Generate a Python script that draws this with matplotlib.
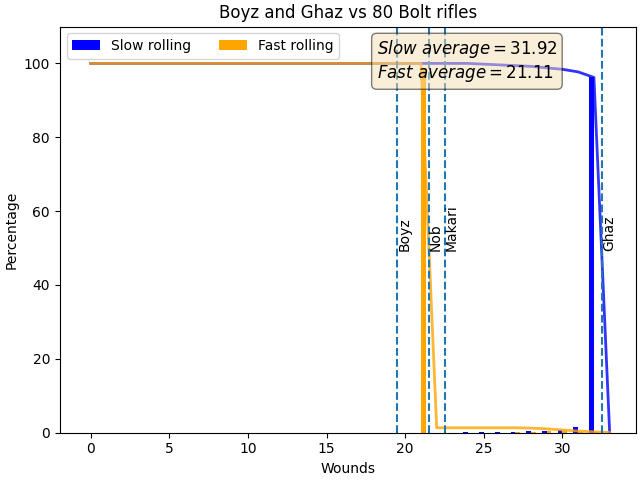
import numpy as np
import matplotlib
matplotlib.use("Agg")
import matplotlib.pyplot as plt

wounds = np.arange(0, 34)

# percentage of rolls ending on each wound count
slow_pct = np.zeros(len(wounds))
slow_pct[24:33] = [0.2, 0.2, 0.2, 0.2, 0.4, 0.4, 0.7, 1.5, 96.2]
fast_pct = np.zeros(len(wounds))
fast_pct[21] = 98.7
fast_pct[27:33] = [0.1, 0.2, 0.3, 0.3, 0.2, 0.2]

slow_avg = 31.92
fast_avg = 21.11

markers = [19.5, 21.5, 22.5, 32.5]
marker_names = ["Boyz", "Nob", "Makari", "Ghaz"]

# chance of getting at least x wounds
slow_line = slow_pct[::-1].cumsum()[::-1]
fast_line = fast_pct[::-1].cumsum()[::-1]

fig, ax = plt.subplots(figsize=(6.4, 4.8), dpi=100)
bar_width = 0.3
ax.bar(wounds[:-1] - bar_width / 2, slow_pct[:-1], bar_width, color='blue', label='Slow rolling')
ax.bar(wounds[:-1] + bar_width / 2, fast_pct[:-1], bar_width, color='orange', label='Fast rolling')
ax.plot(wounds, slow_line, color='blue', alpha=0.8, lw=2)
ax.plot(wounds, fast_line, color='orange', alpha=0.8, lw=2)

for x, name in zip(markers, marker_names):
    ax.axvline(x, color='C0', linestyle='--')
    ax.text(x, 50, name, rotation=90)

txt = r'$Slow\ average = %.2f$' % slow_avg + '\n' + r'$Fast\ average = %.2f$' % fast_avg
ax.text(0.55, 0.971, txt, transform=ax.transAxes, fontsize=12, va='top',
        bbox=dict(boxstyle='round', facecolor='wheat', alpha=0.5))

ax.set_ylim(0, 110)
ax.set_title('Boyz and Ghaz vs 80 Bolt rifles')
ax.set_xlabel('Wounds')
ax.set_ylabel('Percentage')
ax.legend(loc='upper left', ncol=2)
plt.tight_layout(pad=0.3)
plt.savefig('out.png')
